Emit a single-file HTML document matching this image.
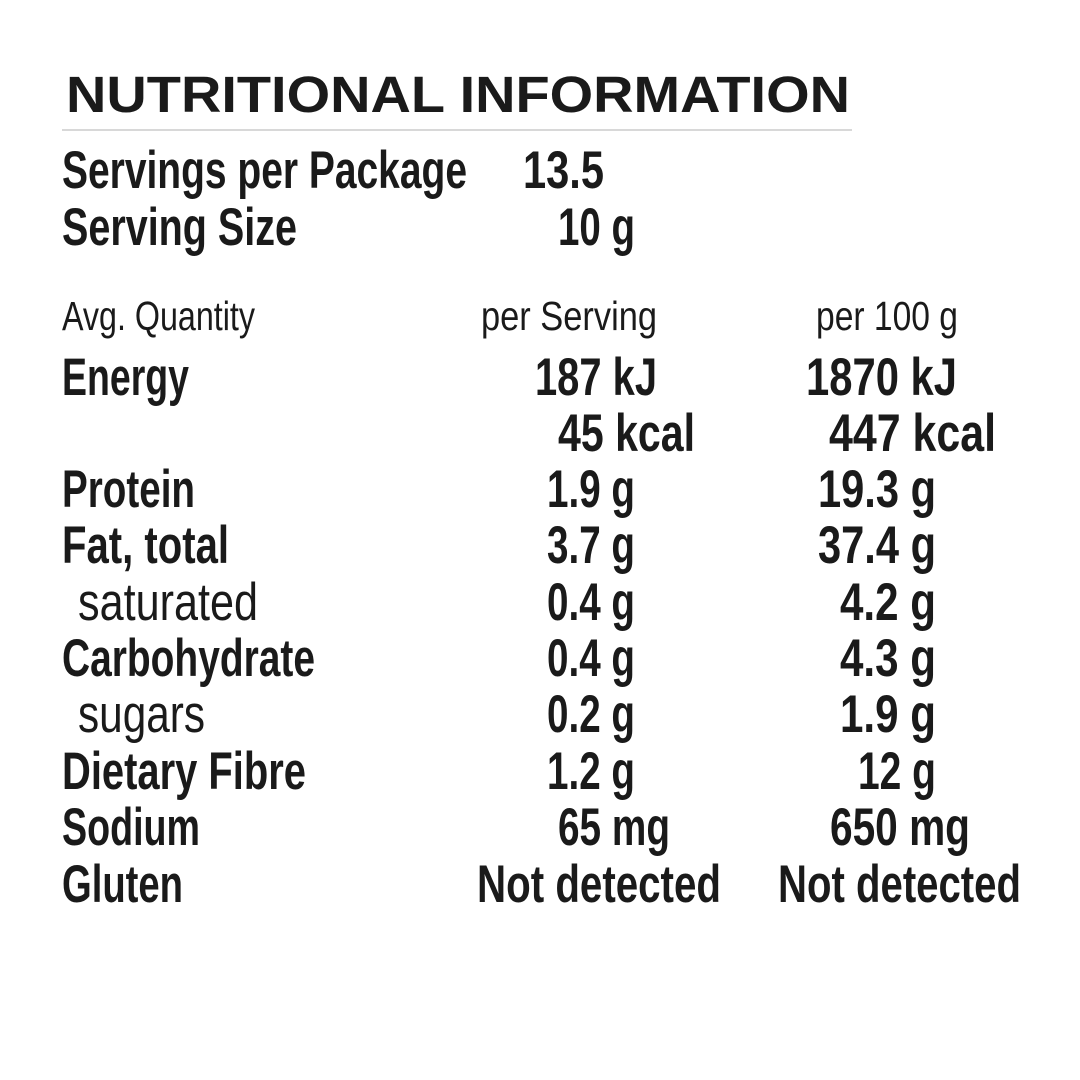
<!DOCTYPE html>
<html><head><meta charset="utf-8"><style>
html,body{margin:0;padding:0;background:#fff;}
svg{display:block;}
text{font-family:"Liberation Sans Narrow","Liberation Sans",sans-serif;fill:#1a1a1a;}
.b{font-weight:bold;font-size:53px;}
.n{font-size:41px;}
.t{font-family:"Liberation Sans",sans-serif;font-weight:bold;font-size:51px;}
</style></head><body>
<svg width="1080" height="1080" viewBox="0 0 1080 1080" xmlns="http://www.w3.org/2000/svg">
<rect width="1080" height="1080" fill="#fff"/>
<text class="t" x="66" y="112" textLength="784" lengthAdjust="spacingAndGlyphs">NUTRITIONAL INFORMATION</text>
<line x1="62" y1="130" x2="852" y2="130" stroke="#ccc" stroke-width="1.5"/>
<g class="b">
<text class="b" x="62" y="188" textLength="405" lengthAdjust="spacingAndGlyphs">Servings per Package</text>
<text class="b" x="523" y="188" textLength="81" lengthAdjust="spacingAndGlyphs">13.5</text>
<text class="b" x="62" y="245" textLength="235" lengthAdjust="spacingAndGlyphs">Serving Size</text>
<text class="b" x="558" y="245" textLength="77" lengthAdjust="spacingAndGlyphs">10 g</text>
</g>
<text class="n" x="62" y="330" textLength="193" lengthAdjust="spacingAndGlyphs">Avg. Quantity</text>
<text class="n" x="481" y="330" textLength="176" lengthAdjust="spacingAndGlyphs">per Serving</text>
<text class="n" x="816" y="330" textLength="142" lengthAdjust="spacingAndGlyphs">per 100 g</text>

<text class="b" x="62" y="395" textLength="127" lengthAdjust="spacingAndGlyphs">Energy</text>
<text class="b" x="535" y="395" textLength="122" lengthAdjust="spacingAndGlyphs">187 kJ</text>
<text class="b" x="806" y="395" textLength="151" lengthAdjust="spacingAndGlyphs">1870 kJ</text>
<text class="b" x="558" y="451" textLength="137" lengthAdjust="spacingAndGlyphs">45 kcal</text>
<text class="b" x="829" y="451" textLength="167" lengthAdjust="spacingAndGlyphs">447 kcal</text>

<text class="b" x="62" y="507" textLength="133" lengthAdjust="spacingAndGlyphs">Protein</text>
<text class="b" x="547" y="507" textLength="88" lengthAdjust="spacingAndGlyphs">1.9 g</text>
<text class="b" x="818" y="507" textLength="118" lengthAdjust="spacingAndGlyphs">19.3 g</text>

<text class="b" x="62" y="563" textLength="167" lengthAdjust="spacingAndGlyphs">Fat, total</text>
<text class="b" x="547" y="563" textLength="88" lengthAdjust="spacingAndGlyphs">3.7 g</text>
<text class="b" x="818" y="563" textLength="118" lengthAdjust="spacingAndGlyphs">37.4 g</text>

<text class="b" style="font-weight:normal" x="78" y="620" textLength="180" lengthAdjust="spacingAndGlyphs">saturated</text>
<text class="b" x="547" y="620" textLength="88" lengthAdjust="spacingAndGlyphs">0.4 g</text>
<text class="b" x="840" y="620" textLength="96" lengthAdjust="spacingAndGlyphs">4.2 g</text>

<text class="b" x="62" y="676" textLength="253" lengthAdjust="spacingAndGlyphs">Carbohydrate</text>
<text class="b" x="547" y="676" textLength="88" lengthAdjust="spacingAndGlyphs">0.4 g</text>
<text class="b" x="840" y="676" textLength="96" lengthAdjust="spacingAndGlyphs">4.3 g</text>

<text class="b" style="font-weight:normal" x="78" y="732" textLength="127" lengthAdjust="spacingAndGlyphs">sugars</text>
<text class="b" x="547" y="732" textLength="88" lengthAdjust="spacingAndGlyphs">0.2 g</text>
<text class="b" x="840" y="732" textLength="96" lengthAdjust="spacingAndGlyphs">1.9 g</text>

<text class="b" x="62" y="789" textLength="244" lengthAdjust="spacingAndGlyphs">Dietary Fibre</text>
<text class="b" x="547" y="789" textLength="88" lengthAdjust="spacingAndGlyphs">1.2 g</text>
<text class="b" x="858" y="789" textLength="78" lengthAdjust="spacingAndGlyphs">12 g</text>

<text class="b" x="62" y="845" textLength="138" lengthAdjust="spacingAndGlyphs">Sodium</text>
<text class="b" x="558" y="845" textLength="112" lengthAdjust="spacingAndGlyphs">65 mg</text>
<text class="b" x="830" y="845" textLength="140" lengthAdjust="spacingAndGlyphs">650 mg</text>

<text class="b" x="62" y="902" textLength="121" lengthAdjust="spacingAndGlyphs">Gluten</text>
<text class="b" x="477" y="902" textLength="244" lengthAdjust="spacingAndGlyphs">Not detected</text>
<text class="b" x="778" y="902" textLength="243" lengthAdjust="spacingAndGlyphs">Not detected</text>
</svg>
</body></html>
